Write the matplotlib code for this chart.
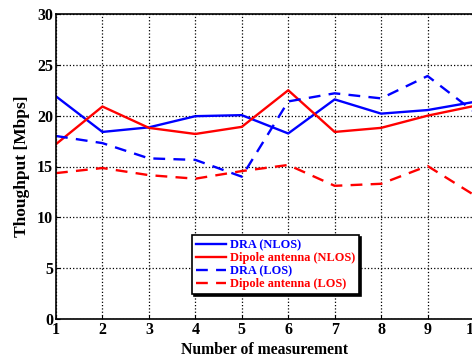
import matplotlib
matplotlib.use("Agg")
import matplotlib.pyplot as plt

x = [1, 2, 3, 4, 5, 6, 7, 8, 9, 10]
dra_nlos = [21.9, 18.4, 18.85, 19.95, 20.05, 18.25, 21.6, 20.2, 20.55, 21.35]
dipole_nlos = [17.2, 20.9, 18.8, 18.2, 18.9, 22.5, 18.4, 18.8, 20.0, 20.95]
dra_los = [18.0, 17.3, 15.8, 15.65, 14.0, 21.4, 22.2, 21.7, 23.9, 20.4]
dipole_los = [14.35, 14.85, 14.15, 13.8, 14.55, 15.15, 13.1, 13.3, 15.05, 12.2]
labels = ["DRA (NLOS)", "Dipole antenna (NLOS)", "DRA (LOS)", "Dipole antenna (LOS)"]
colors = ["#0000ff", "#ff0000", "#0000ff", "#ff0000"]
styles = ["-", "-", "--", "--"]

plt.rcParams['font.family'] = ['Liberation Serif', 'DejaVu Serif']
plt.rcParams['font.weight'] = 'bold'

fig = plt.figure(figsize=(4.72, 3.6), dpi=100)
ax = fig.add_axes([56/472, 41/360, 418/472, 305/360])

for ys, c, ls, lb in zip([dra_nlos, dipole_nlos, dra_los, dipole_los], colors, styles, labels):
    ax.plot(x, ys, color=c, linestyle=ls, linewidth=1.7, label=lb,
            dashes=(5, 3.5) if ls == "--" else (None, None))

ax.set_xlim(1, 10)
ax.set_ylim(0, 30)
ax.set_xticks(x)
ax.set_yticks([0, 5, 10, 15, 20, 25, 30])
ax.grid(True, color='black', linestyle=':', linewidth=0.9)
ax.tick_params(direction='in', length=3, labelsize=11.5, pad=2)
for lab in ax.get_xticklabels() + ax.get_yticklabels():
    lab.set_fontweight('bold')
for s in ax.spines.values():
    s.set_linewidth(1.2)
ax.set_xlabel("Number of measurement", fontsize=11.3, fontweight='bold', labelpad=3)
ax.set_ylabel("Thoughput [Mbps]", fontsize=12.5, fontweight='bold', labelpad=5)

leg = ax.legend(loc='upper left', bbox_to_anchor=(0.325, 0.276), fontsize=8.9,
                handlelength=2.4, handletextpad=0.3, borderpad=0.35, labelspacing=0.08,
                fancybox=False, framealpha=1, edgecolor='black',
                shadow={'color': 'black', 'alpha': 1.0, 'ox': 1.3, 'oy': -1.3},
                borderaxespad=0)
leg.get_frame().set_linewidth(1.2)
for t, c in zip(leg.get_texts(), colors):
    t.set_color(c)
    t.set_fontweight('bold')

fig.savefig("out.png", dpi=100)
